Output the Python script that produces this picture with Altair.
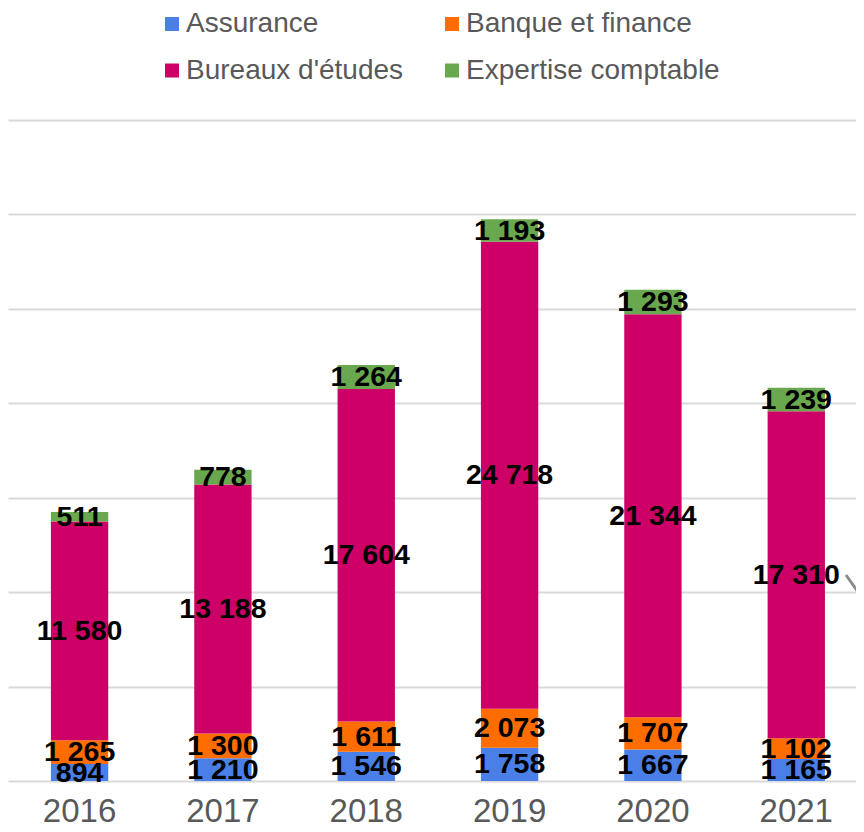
import altair as alt
import pandas as pd

years = ["2016", "2017", "2018", "2019", "2020", "2021"]
series = ["Assurance", "Banque et finance", "Bureaux d'études", "Expertise comptable"]
colors = ["#4a7fe8", "#ff6d00", "#cc0066", "#6aa84f"]

assurance = [894, 1210, 1546, 1758, 1667, 1165]
banque = [1265, 1300, 1611, 2073, 1707, 1102]
bureaux = [11580, 13188, 17604, 24718, 21344, 17310]
expertise = [511, 778, 1264, 1193, 1293, 1239]

values = [assurance, banque, bureaux, expertise]
rows = []
for si, (name, vals) in enumerate(zip(series, values)):
    for yr, v in zip(years, vals):
        rows.append({"year": yr, "series": name, "idx": si, "value": v,
                     "label": f"{v:,}".replace(",", " ")})
df = pd.DataFrame(rows)

FONT = "Liberation Sans"

base = alt.Chart(df).transform_stack(
    stack="value", groupby=["year"], as_=["y0", "y1"],
    sort=[alt.SortField("idx", order="ascending")]
).transform_calculate(mid="(datum.y0 + datum.y1) / 2")

xscale = alt.Scale(paddingInner=0.6, paddingOuter=0.258, align=0.58)
x = alt.X("year:N", title=None, scale=xscale,
          axis=alt.Axis(labelAngle=0, labelFontSize=33, labelColor="#595959",
                        labelFont=FONT, ticks=False, domain=False,
                        labelPadding=14, grid=False))
yscale = alt.Scale(domain=[0, 35000], nice=False)

bars = base.mark_bar().encode(
    x=x,
    y=alt.Y("y0:Q", scale=yscale, title=None,
            axis=alt.Axis(values=[0, 5000, 10000, 15000, 20000, 25000, 30000, 35000],
                          labels=False, ticks=False, domain=False, grid=True,
                          gridColor="#d9d9d9", gridWidth=2)),
    y2="y1:Q",
    color=alt.Color("series:N",
                    scale=alt.Scale(domain=series, range=colors),
                    legend=alt.Legend(title=None, orient="none", legendX=150, legendY=-110,
                                      direction="horizontal",
                                      columns=2, symbolType="square", symbolSize=196,
                                      symbolStrokeWidth=0, labelFontSize=28,
                                      labelFont=FONT, labelColor="#595959",
                                      labelLimit=500,
                                      labelOffset=0, columnPadding=34, rowPadding=18.5,
                                      padding=0)),
)

labels = base.mark_text(font=FONT, fontSize=28.5, fontWeight="bold", color="black",
                        baseline="middle").encode(
    x=alt.X("year:N", scale=xscale),
    y=alt.Y("mid:Q", scale=yscale),
    text="label:N",
)

deco = alt.Chart(pd.DataFrame({"a": [0]})).mark_rule(color="#8c8c8c", strokeWidth=3).encode(
    x=alt.value(838), x2=alt.value(850), y=alt.value(455), y2=alt.value(472)
)

chart = alt.layer(bars, labels, deco).properties(
    width=848, height=661,
    autosize=alt.AutoSizeParams(type="none"),
    padding={"left": 0, "top": 112, "right": 0, "bottom": 43},
).configure_view(stroke=None)

chart.save("out.html", embed_options={"renderer": "svg", "actions": False})
